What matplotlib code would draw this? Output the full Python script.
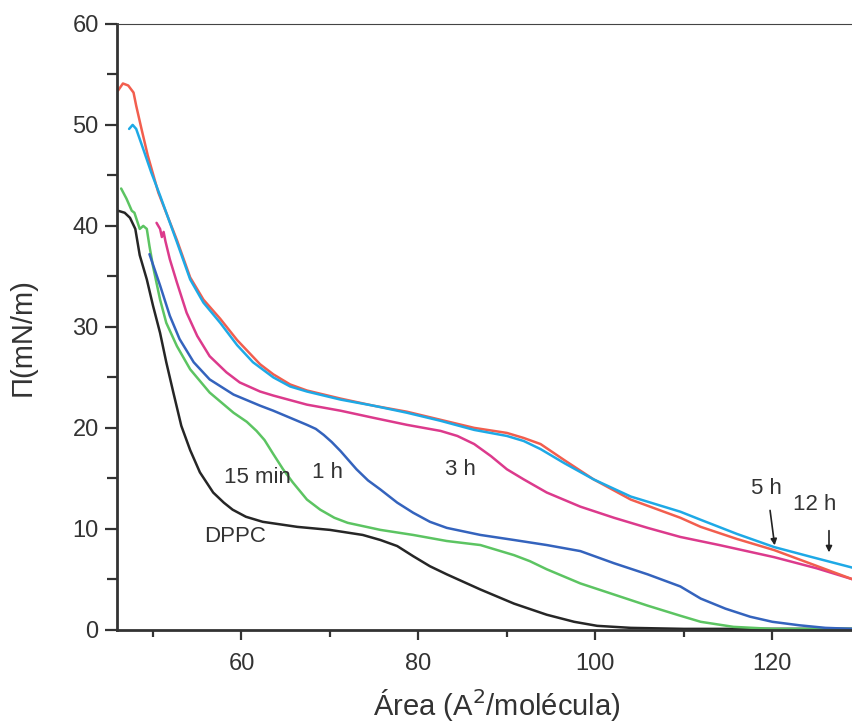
import matplotlib
matplotlib.use("Agg")
import matplotlib.pyplot as plt
from matplotlib.ticker import MultipleLocator

plt.rcParams['font.family'] = ['Liberation Sans', 'DejaVu Sans']

# isotherms: area (A^2/molecule) vs surface pressure (mN/m)
dppc_x = [46.05, 46.8, 47.4, 48.0, 48.5, 49.3, 50.0, 50.8, 51.5, 52.3, 53.2, 54.2, 55.3,
          56.8, 58.0, 59.0, 60.5, 62.4, 66.3, 70.0, 73.7, 75.7, 77.6, 79.4, 81.3, 83.2,
          87.0, 90.8, 94.5, 97.6, 100.2, 104.0, 110.0, 120.0, 129.1]
dppc_y = [41.5, 41.3, 40.8, 39.7, 37.1, 34.7, 32.1, 29.4, 26.5, 23.5, 20.2, 17.8, 15.6,
          13.6, 12.6, 11.9, 11.2, 10.7, 10.2, 9.9, 9.4, 8.9, 8.3, 7.3, 6.3, 5.5,
          4.0, 2.6, 1.5, 0.8, 0.4, 0.2, 0.1, 0.1, 0.1]

min15_x = [46.4, 47.0, 47.6, 47.9, 48.5, 48.9, 49.3, 49.6, 50.0, 50.8, 51.5, 52.7, 54.2,
           56.4, 59.1, 60.6, 61.7, 62.6, 63.6, 64.7, 65.8, 67.4, 68.9, 70.5, 72.0, 75.7,
           79.4, 83.2, 87.0, 88.9, 90.8, 92.6, 94.5, 98.3, 102.1, 105.9, 109.6, 111.9,
           115.6, 120.0, 129.1]
min15_y = [43.7, 42.7, 41.5, 41.3, 39.7, 40.0, 39.7, 38.0, 36.0, 32.7, 30.4, 28.1, 25.8,
           23.5, 21.5, 20.6, 19.7, 18.8, 17.4, 15.9, 14.6, 12.9, 11.9, 11.1, 10.6, 9.9,
           9.4, 8.8, 8.4, 7.9, 7.4, 6.8, 6.0, 4.6, 3.5, 2.4, 1.4, 0.8,
           0.3, 0.1, 0.1]

h1_x = [49.6, 50.8, 51.9, 53.0, 54.6, 56.4, 59.1, 62.1, 63.6, 65.5, 67.4, 68.4, 69.3,
        70.2, 71.2, 72.1, 73.0, 74.3, 75.7, 77.6, 79.4, 81.3, 83.2, 87.0, 90.8, 94.5,
        98.3, 102.1, 105.9, 109.6, 111.9, 114.7, 117.5, 120.0, 123.1, 126.0, 129.1]
h1_y = [37.2, 34.1, 31.1, 28.8, 26.5, 24.8, 23.3, 22.2, 21.7, 21.0, 20.3, 19.9, 19.3,
        18.6, 17.7, 16.8, 15.9, 14.8, 13.9, 12.6, 11.6, 10.7, 10.1, 9.4, 8.9, 8.4,
        7.8, 6.6, 5.5, 4.3, 3.1, 2.1, 1.3, 0.8, 0.45, 0.2, 0.1]

h3_x = [50.4, 50.8, 51.0, 51.2, 51.4, 51.9, 52.7, 53.8, 55.0, 56.4, 58.3, 59.8, 62.1,
        63.6, 67.4, 71.2, 74.9, 78.7, 82.5, 84.4, 86.3, 88.2, 90.0, 91.9, 94.5, 98.3,
        102.1, 105.9, 109.6, 114.0, 120.2, 125.0, 129.1]
h3_y = [40.3, 39.7, 38.9, 39.4, 38.5, 36.7, 34.4, 31.4, 29.1, 27.1, 25.5, 24.5, 23.6,
        23.2, 22.3, 21.7, 21.0, 20.3, 19.7, 19.2, 18.4, 17.2, 15.9, 14.9, 13.6, 12.2,
        11.1, 10.1, 9.2, 8.4, 7.2, 6.1, 5.0]

h5_x = [46.05, 46.6, 47.2, 47.8, 48.1, 48.7, 49.4, 50.6, 52.7, 54.2, 55.7, 57.6, 59.5,
        62.1, 63.6, 65.5, 67.4, 71.2, 74.9, 78.7, 82.5, 86.3, 90.0, 91.9, 93.8, 96.5,
        99.8, 104.0, 109.6, 111.9, 116.0, 120.2, 124.5, 129.1]
h5_y = [53.4, 54.1, 53.9, 53.2, 51.9, 49.6, 47.0, 43.3, 38.6, 34.9, 32.7, 30.8, 28.7,
        26.3, 25.3, 24.3, 23.7, 22.9, 22.2, 21.6, 20.8, 20.0, 19.5, 19.0, 18.4, 16.8,
        14.9, 12.9, 11.1, 10.2, 9.0, 7.9, 6.5, 5.0]

h12_x = [47.3, 47.7, 48.1, 48.9, 49.8, 50.8, 52.7, 54.2, 55.7, 57.6, 59.5, 61.3, 63.6,
         65.5, 67.4, 71.2, 74.9, 78.7, 82.5, 86.3, 90.0, 91.9, 93.8, 96.5, 99.8, 104.0,
         109.6, 111.9, 116.0, 120.2, 124.5, 129.1]
h12_y = [49.6, 50.0, 49.6, 47.6, 45.3, 43.0, 38.4, 34.7, 32.4, 30.4, 28.2, 26.5, 25.0,
         24.1, 23.6, 22.8, 22.2, 21.5, 20.7, 19.8, 19.2, 18.7, 17.9, 16.5, 14.9, 13.2,
         11.7, 10.9, 9.5, 8.2, 7.2, 6.15]

fig = plt.figure(figsize=(8.52, 7.24), dpi=100)
ax = fig.add_axes([0.137, 0.130, 0.863, 0.837])

style = dict(lw=1.8, solid_joinstyle='round', solid_capstyle='round')
ax.plot(dppc_x, dppc_y, color='#262626', **style)
ax.plot(min15_x, min15_y, color='#5cc462', **style)
ax.plot(h1_x, h1_y, color='#3463bd', **style)
ax.plot(h3_x, h3_y, color='#dc3a8c', **style)
ax.plot(h5_x, h5_y, color='#f25e4e', **style)
ax.plot(h12_x, h12_y, color='#1ea9e6', **style)

txt = dict(fontsize=16, color='#333333', ha='center', va='center')
ax.text(61.8, 15.1, '15 min', **txt)
ax.text(69.7, 15.6, '1 h', **txt)
ax.text(84.7, 15.9, '3 h', **txt)
ax.text(59.3, 9.2, 'DPPC', **txt)
ax.text(119.3, 14.0, '5 h', **txt)
ax.text(124.8, 12.4, '12 h', **txt)

arrow = dict(arrowstyle='-|>', color='#222222', lw=1.2, mutation_scale=9)
ax.annotate('', xy=(120.3, 8.1), xytext=(119.7, 12.1), arrowprops=arrow)
ax.annotate('', xy=(126.4, 7.4), xytext=(126.4, 10.1), arrowprops=arrow)

ax.set_xlim(45.9, 129.0)
ax.set_ylim(0, 60)
ax.xaxis.set_major_locator(MultipleLocator(20))
ax.xaxis.set_minor_locator(MultipleLocator(10))
ax.yaxis.set_major_locator(MultipleLocator(10))
ax.yaxis.set_minor_locator(MultipleLocator(5))

ax.spines['right'].set_visible(False)
ax.spines['top'].set_linewidth(0.8)
ax.spines['top'].set_color('#444444')
for s in ('left', 'bottom'):
    ax.spines[s].set_linewidth(2.0)
    ax.spines[s].set_color('#333333')

ax.tick_params(axis='both', which='both', direction='out', colors='#333333',
               labelsize=17, width=1.6)
ax.tick_params(axis='y', which='major', length=9, pad=4)
ax.tick_params(axis='y', which='minor', length=7)
ax.tick_params(axis='x', which='major', length=7, pad=10)
ax.tick_params(axis='x', which='minor', length=5)

ax.set_xlabel('Área (A$^2$/molécula)', fontsize=21, color='#333333', va='center')
ax.xaxis.set_label_coords(0.517, -0.124)
ax.set_ylabel('Π(mN/m)', fontsize=21, color='#333333', va='center')
ax.yaxis.set_label_coords(-0.128, 0.483)

fig.savefig('out.png', dpi=100)
